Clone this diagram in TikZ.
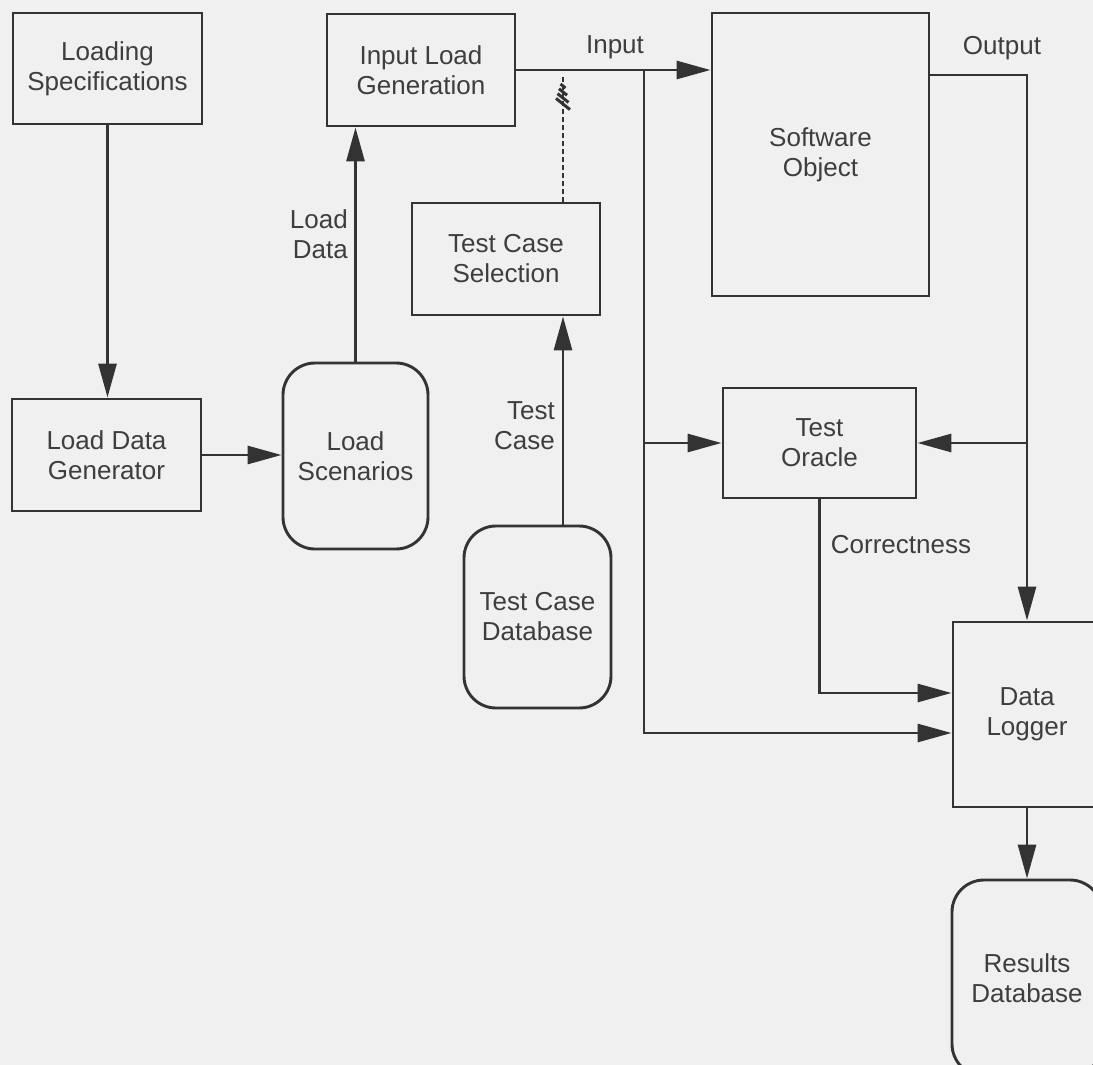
\documentclass[tikz,border=0pt]{standalone}
\usepackage{fontspec}
\setmainfont{Liberation Sans}
\usetikzlibrary{arrows.meta}
\definecolor{bg}{HTML}{F0F0F0}
\definecolor{ink}{HTML}{333333}
\definecolor{txt}{HTML}{3E3E3E}
\begin{document}
\begin{tikzpicture}[x=1pt,y=-1pt,
  box/.style={draw=ink, line width=2.9pt, text=txt, align=center, inner sep=0pt,
    font=\fontsize{26}{30}\selectfont},
  rbox/.style={box, rounded corners=32pt},
  conn/.style={draw=ink, line width=2.9pt},
  arr/.style={conn, -{Triangle[length=34pt,width=18pt]}},
  ctrl/.style={draw=ink, line width=2.4pt, dash pattern=on 5pt off 3pt},
  hatch/.style={draw=ink, line width=3pt},
  lbl/.style={text=txt, inner sep=0pt, font=\fontsize{26}{30}\selectfont}]
\useasboundingbox (0,0) rectangle (1093,1065);
\fill[bg] (0,0) rectangle (1093,1065);

% nodes
\node[box, minimum width=189pt, minimum height=111pt] (spec) at (107.5,68.5) {Loading\\Specifications};
\node[box, minimum width=188pt, minimum height=112pt] (ilg) at (421,70) {Input Load\\Generation};
\node[box, minimum width=188pt, minimum height=112pt] (tcs) at (506,259) {Test Case\\Selection};
\node[box, minimum width=189pt, minimum height=112pt] (ldg) at (106.5,455) {Load Data\\Generator};
\node[rbox, minimum width=145pt, minimum height=186pt] (ls) at (355.5,456) {Load\\Scenarios};
\node[rbox, minimum width=147pt, minimum height=182pt] (tcd) at (537.5,617) {Test Case\\Database};
\node[box, minimum width=217pt, minimum height=283pt] (so) at (820.5,154.5) {Software\\Object};
\node[box, minimum width=193pt, minimum height=110pt] (to) at (819.5,443) {Test\\Oracle};
\node[box, minimum width=148pt, minimum height=185pt] (dl) at (1027,714.5) {Data\\Logger};
\node[rbox, minimum width=150pt, minimum height=196pt] (rd) at (1027,978) {Results\\Database};

% labels
\node[lbl, anchor=east, align=right] (lload) at (348,234) {Load\\Data};
\node[lbl, anchor=east, align=right] (ltc) at (555,426) {Test\\Case};
\node[lbl] (linput) at (615,47) {Input};
\node[lbl] (loutput) at (1002,48) {Output};
\node[lbl] (lcorr) at (901,545) {Correctness};

% helper coordinates
\coordinate (tcx) at (563,0);
\coordinate (jx) at (644,0);
\coordinate (dtop) at (563,74);

% connectors
\draw[arr] (spec.south) -- (spec.south |- ldg.north);
\draw[arr] (ldg.east) -- (ldg.east -| ls.west);
\draw[arr] (ls.north) -- (ls.north |- ilg.south);
\draw[arr] (tcd.north -| tcx) -- (tcs.south -| tcx);
\draw[arr] (ilg.east) -- (ilg.east -| so.west);
\draw[arr] (ilg.east -| jx) |- ([yshift=-18.5pt]dl.west);
\draw[arr] (to.west -| jx) -- (to.west);
\draw[arr] ([yshift=79.5pt]so.east) -| (dl.north);
\draw[arr] (to.east -| dl.north) -- (to.east);
\draw[arr] (to.south) |- ([yshift=21.5pt]dl.west);
\draw[arr] (dl.south) -- (rd.north);

% control (dashed) link from Test Case Selection to the input line
\draw[ctrl] (tcs.north -| tcx) -- (dtop);
\foreach \yy/\hw in {86/2.5, 92/4, 98/5.5, 104/7}{
  \draw[hatch] (563-\hw,\yy-0.8*\hw) -- (563+\hw,\yy+0.8*\hw);
}
\end{tikzpicture}
\end{document}
